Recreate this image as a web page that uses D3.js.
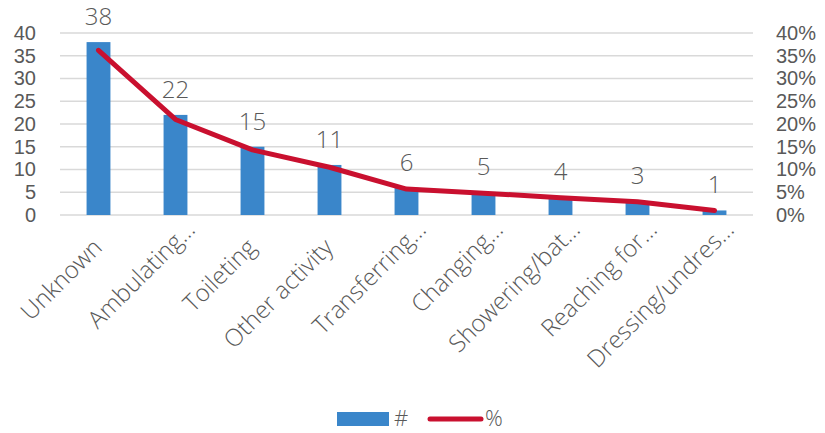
<!DOCTYPE html>
<html>
<head>
<meta charset="utf-8">
<script src="https://cdn.jsdelivr.net/npm/d3@7"></script>
<style>
  html, body { margin: 0; padding: 0; background: #fff; }
  svg { display: block; font-family: "Century Gothic", "Open Sans", "Lato", sans-serif; font-weight: 300; }
</style>
</head>
<body>
<svg id="chart" width="825" height="433"></svg>
<script>
// Incident counts by activity, with each activity's share of the total
const categories = ["Unknown", "Ambulating…", "Toileting", "Other activity", "Transferring…",
                    "Changing…", "Showering/bat…", "Reaching for…", "Dressing/undres…"];
const counts = [38, 22, 15, 11, 6, 5, 4, 3, 1];
const percents = [0.362, 0.210, 0.143, 0.105, 0.057, 0.048, 0.038, 0.029, 0.010];
const countTicks = [0, 5, 10, 15, 20, 25, 30, 35, 40];
const percentTicks = [0, 0.05, 0.10, 0.15, 0.20, 0.25, 0.30, 0.35, 0.40];
const seriesNames = ["#", "%"];

const svg = d3.select("#chart");
const plot = { left: 60, right: 753, top: 33, bottom: 215 };
const textColor = "#595959";
const barColor = "#3A86CA";
const lineColor = "#C9102F";

const x = d3.scaleBand().domain(categories).range([plot.left, plot.right]).paddingInner(0.69).paddingOuter(0.345);
const xc = d3.scaleBand().domain(categories).range([plot.left, plot.right]);
const yL = d3.scaleLinear().domain([0, 40]).range([plot.bottom, plot.top]);
const yR = d3.scaleLinear().domain([0, 0.4]).range([plot.bottom, plot.top]);
const mid = d => xc(d) + xc.bandwidth() / 2;

// gridlines
svg.append("g").selectAll("line").data(countTicks).join("line")
  .attr("x1", plot.left).attr("x2", plot.right)
  .attr("y1", d => yL(d)).attr("y2", d => yL(d))
  .attr("stroke", "#d9d9d9").attr("stroke-width", 1.5);

// left axis
const leftAxis = svg.append("g").attr("transform", `translate(${plot.left},0)`)
  .call(d3.axisLeft(yL).tickValues(countTicks).tickSize(0).tickPadding(24));
leftAxis.select(".domain").remove();
leftAxis.selectAll("text").attr("fill", textColor).style("font-size", "20px");

// right axis
const rightAxis = svg.append("g").attr("transform", `translate(${plot.right},0)`)
  .call(d3.axisRight(yR).tickValues(percentTicks).tickSize(0).tickPadding(23).tickFormat(d3.format(".0%")));
rightAxis.select(".domain").remove();
rightAxis.selectAll("text").attr("fill", textColor).style("font-size", "20px");

// bars
svg.append("g").selectAll("rect").data(counts).join("rect")
  .attr("x", (d, i) => x(categories[i]))
  .attr("width", x.bandwidth())
  .attr("y", d => yL(d))
  .attr("height", d => yL(0) - yL(d))
  .attr("fill", barColor);

// bar value labels
svg.append("g").selectAll("text").data(counts).join("text")
  .attr("x", (d, i) => mid(categories[i]))
  .attr("y", d => yL(d) - 17)
  .attr("text-anchor", "middle")
  .attr("fill", textColor)
  .style("font-size", "24px")
  .text(d => d);

// percentage line
const line = d3.line()
  .x((d, i) => mid(categories[i]))
  .y(d => yR(d));
svg.append("path").datum(percents)
  .attr("d", line)
  .attr("fill", "none")
  .attr("stroke", lineColor)
  .attr("stroke-width", 5)
  .attr("stroke-linecap", "round")
  .attr("stroke-linejoin", "round");

// category labels, rotated; shortened labels sit further along the diagonal
svg.append("g").selectAll("text").data(categories).join("text")
  .attr("transform", d => d.endsWith("…")
    ? `translate(${mid(d) + 21},${plot.bottom + 16}) rotate(-45)`
    : `translate(${mid(d) + 5},${plot.bottom + 34}) rotate(-45)`)
  .attr("text-anchor", "end")
  .attr("fill", textColor)
  .style("font-size", "24px")
  .text(d => d);

// legend
const legend = svg.append("g").attr("transform", "translate(0,419)");
legend.append("rect").attr("x", 337).attr("y", -7).attr("width", 52).attr("height", 14).attr("fill", barColor);
legend.append("text").attr("x", 394).attr("y", 7).attr("fill", textColor).style("font-size", "22px").text(seriesNames[0]);
legend.append("line").attr("x1", 430).attr("x2", 481).attr("y1", 0).attr("y2", 0)
  .attr("stroke", lineColor).attr("stroke-width", 5).attr("stroke-linecap", "round");
legend.append("text").attr("x", 485).attr("y", 7).attr("fill", textColor).style("font-size", "22px").text(seriesNames[1]);
</script>
</body>
</html>
